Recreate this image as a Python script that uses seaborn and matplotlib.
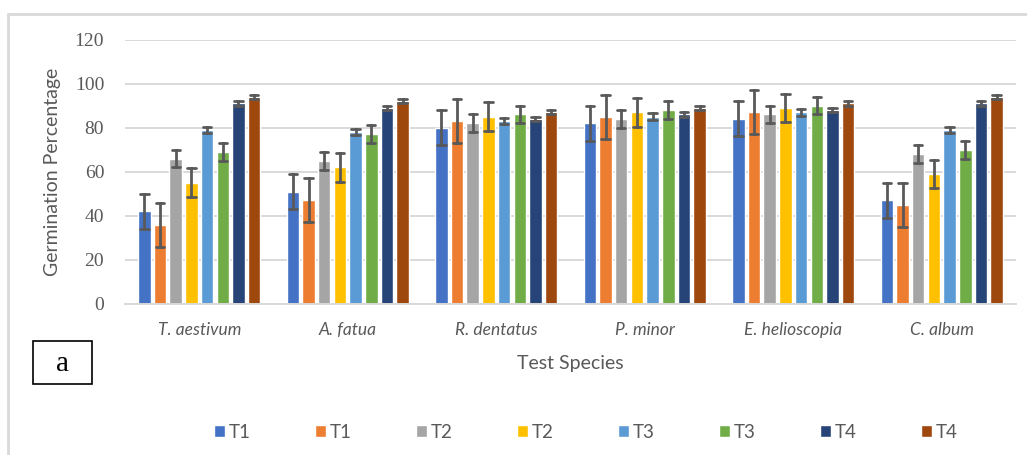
import matplotlib
matplotlib.use("Agg")
import matplotlib.pyplot as plt
from matplotlib.patches import Rectangle
from matplotlib.lines import Line2D
import numpy as np
import pandas as pd
import seaborn as sns

# Germination percentage per test species and treatment
species = ["T. aestivum", "A. fatua", "R. dentatus", "P. minor", "E. helioscopia", "C. album"]
series_ids = ["s1", "s2", "s3", "s4", "s5", "s6", "s7", "s8"]
series_labels = ["T1", "T1", "T2", "T2", "T3", "T3", "T4", "T4"]
colors = ["#4472C4", "#ED7D31", "#A5A5A5", "#FFC000",
          "#5B9BD5", "#70AD47", "#264478", "#9E480E"]

means = {
    "s1": [42, 51, 80, 82, 84, 47],
    "s2": [36, 47, 83, 85, 87, 45],
    "s3": [66, 65, 82, 84, 86, 68],
    "s4": [55, 62, 85, 87, 89, 59],
    "s5": [79, 78, 83, 85, 87, 79],
    "s6": [69, 77, 86, 88, 90, 70],
    "s7": [91, 89, 84, 86, 88, 91],
    "s8": [94, 92, 87, 89, 91, 94],
}
errors = {
    "s1": [8, 8, 8, 8, 8, 8],
    "s2": [10, 10, 10, 10, 10, 10],
    "s3": [4, 4, 4, 4, 4, 4],
    "s4": [6.5, 6.5, 6.5, 6.5, 6.5, 6.5],
    "s5": [1.5, 1.5, 1.5, 1.5, 1.5, 1.5],
    "s6": [4, 4, 4, 4, 4, 4],
    "s7": [1, 1, 1, 1, 1, 1],
    "s8": [1, 1, 1, 1, 1, 1],
}
yticks = [0, 20, 40, 60, 80, 100, 120]

# Each bar gets its mean +/- error as two observations, so the mean is the
# bar height and the min/max interval is the error bar.
rows = []
for sid in series_ids:
    for sp, m, e in zip(species, means[sid], errors[sid]):
        rows.append({"species": sp, "series": sid, "value": m - e})
        rows.append({"species": sp, "series": sid, "value": m + e})
df = pd.DataFrame(rows)

sns.set_theme(style="white")
plt.rcParams["font.family"] = ["Lato", "DejaVu Sans"]
text_color = "#595959"
grid_color = "#d9d9d9"

fig = plt.figure(figsize=(10.27, 4.55), dpi=100)
ax = fig.add_axes([125 / 1027, 1 - 304 / 455, (1016 - 125) / 1027, (304 - 39.5) / 455])

sns.barplot(
    data=df, x="species", y="value", hue="series",
    order=species, hue_order=series_ids, palette=colors,
    estimator="mean", errorbar=lambda v: (v.min(), v.max()),
    width=0.845, gap=0.2, saturation=1, capsize=0.45,
    err_kws={"color": "#595959", "linewidth": 2.0},
    ax=ax,
)

ax.set_ylim(0, 120)
ax.set_yticks(yticks)
ax.set_yticklabels([str(t) for t in yticks], family=["Liberation Serif"],
                   fontsize=14, color=text_color)
ax.set_xticks(range(len(species)))
ax.set_xticklabels(species, family=["Lato", "DejaVu Sans"], style="italic",
                   fontsize=12.5, color=text_color)
ax.tick_params(axis="y", length=0, pad=15)
ax.tick_params(axis="x", length=0, pad=13)
ax.yaxis.grid(True, color=grid_color, linewidth=1.4)
ax.set_axisbelow(True)
for side in ["top", "right", "left"]:
    ax.spines[side].set_visible(False)
ax.spines["bottom"].set_color(grid_color)
ax.spines["bottom"].set_linewidth(1.4)

ax.set_xlabel("Test Species", fontsize=14, color=text_color, labelpad=12)
ax.set_ylabel("Germination Percentage", fontsize=14, color=text_color, labelpad=10)

# Legend with the treatment labels
handles, _ = ax.get_legend_handles_labels()
ax.get_legend().remove()
fig.legend(handles, series_labels, loc="center", ncol=8,
           bbox_to_anchor=(586 / 1027, 1 - 432 / 455), frameon=False,
           fontsize=13.5, handlelength=0.6, handleheight=0.6,
           handletextpad=0.2, columnspacing=3.42, labelcolor=text_color)

# Chart frame
fig.add_artist(Line2D([8 / 1027, 8 / 1027], [0, 1 - 14 / 455],
                      transform=fig.transFigure, color=grid_color, linewidth=2))
fig.add_artist(Line2D([8 / 1027, 1], [1 - 14 / 455, 1 - 14 / 455],
                      transform=fig.transFigure, color=grid_color, linewidth=2))

# Panel tag
fig.add_artist(Rectangle((33 / 1027, 1 - 384 / 455), 59 / 1027, 43 / 455,
                         transform=fig.transFigure, fill=False,
                         edgecolor="black", linewidth=1.2))
fig.text(62.5 / 1027, 1 - 364 / 455, "a", ha="center", va="center",
         family=["Liberation Serif"], fontsize=21, color="black")

fig.savefig("out.png", dpi=100)
